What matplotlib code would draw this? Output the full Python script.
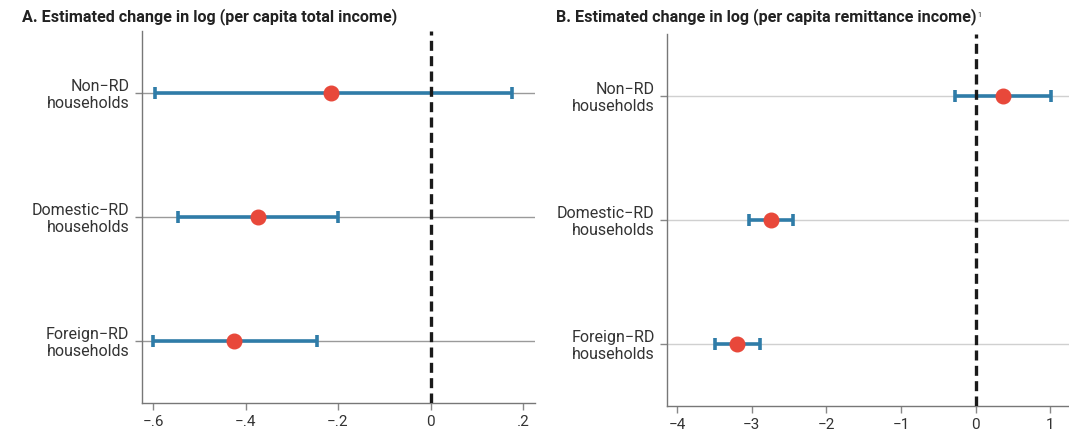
import numpy as np
import matplotlib.pyplot as plt

plt.rcParams['font.family'] = ['Roboto', 'DejaVu Sans']

groups = ['Non\u2212RD\nhouseholds', 'Domestic\u2212RD\nhouseholds', 'Foreign\u2212RD\nhouseholds']

# panel A: total income
a_est = [-0.215, -0.372, -0.424]
a_lo = [-0.595, -0.545, -0.601]
a_hi = [0.177, -0.200, -0.246]
a_ticks = [-0.6, -0.4, -0.2, 0, 0.2]
a_ticklabels = ['\u2212.6', '\u2212.4', '\u2212.2', '0', '.2']

# panel B: remittance income
b_est = [0.36, -2.74, -3.20]
b_lo = [-0.28, -3.04, -3.49]
b_hi = [1.01, -2.45, -2.89]
b_ticks = [-4, -3, -2, -1, 0, 1]
b_ticklabels = ['\u22124', '\u22123', '\u22122', '\u22121', '0', '1']

blue = '#2f7ca8'
red = '#e8483a'

fig = plt.figure(figsize=(10.69, 4.30), dpi=100)
axA = fig.add_axes([0.1328, 0.0628, 0.3677, 0.8652])
axB = fig.add_axes([0.624, 0.056, 0.376, 0.865])


def draw(ax, est, lo, hi, ticks, ticklabels, xlim, gridcol):
    y = np.arange(1, len(groups) + 1)
    for yy in y:
        ax.axhline(yy, color=gridcol, lw=1, zorder=0)
    est = np.array(est)
    err = [est - np.array(lo), np.array(hi) - est]
    ax.errorbar(est, y, xerr=err, fmt='none', ecolor=blue, elinewidth=2.6,
                capsize=4, capthick=2.6, zorder=2)
    ax.plot(est, y, 'o', color=red, markersize=10.5, zorder=3)
    ax.axvline(0, color='#1a1a1a', lw=2.4, ls=(0, (3, 1.6)), zorder=4)
    ax.set_xlim(*xlim)
    ax.set_ylim(3.5, 0.5)
    ax.set_yticks(y)
    ax.set_yticklabels(groups, fontsize=11.5, color='#333333', linespacing=1.15)
    ax.set_xticks(ticks)
    ax.set_xticklabels(ticklabels, fontsize=11, color='#333333')
    for s in ['top', 'right']:
        ax.spines[s].set_visible(False)
    for s in ['left', 'bottom']:
        ax.spines[s].set_color('#777777')
        ax.spines[s].set_linewidth(1.0)
    ax.tick_params(axis='both', colors='#888888', labelcolor='#333333',
                   length=5, width=1)
    ax.tick_params(axis='y', pad=4)


draw(axA, a_est, a_lo, a_hi, a_ticks, a_ticklabels, (-0.624, 0.226), '#9a9a9a')
draw(axB, b_est, b_lo, b_hi, b_ticks, b_ticklabels, (-4.134, 1.25), '#d0d0d0')

fig.text(22 / 1069, 1 - 17 / 430, 'A. Estimated change in log (per capita total income)',
         fontsize=11.6, fontweight='bold', color='#222222', va='center', ha='left')
tB = fig.text(556 / 1069, 1 - 17 / 430, 'B. Estimated change in log (per capita remittance income)',
              fontsize=11.6, fontweight='bold', color='#222222', va='center', ha='left')

# small footnote mark just after panel B title
fig.canvas.draw()
bb = tB.get_window_extent()
fig.text((bb.x1 + 1) / fig.bbox.width, (bb.y1 - 3) / fig.bbox.height, '1',
         fontsize=5, color='#222222', va='top', ha='left')

fig.savefig('out.png', dpi=100)
